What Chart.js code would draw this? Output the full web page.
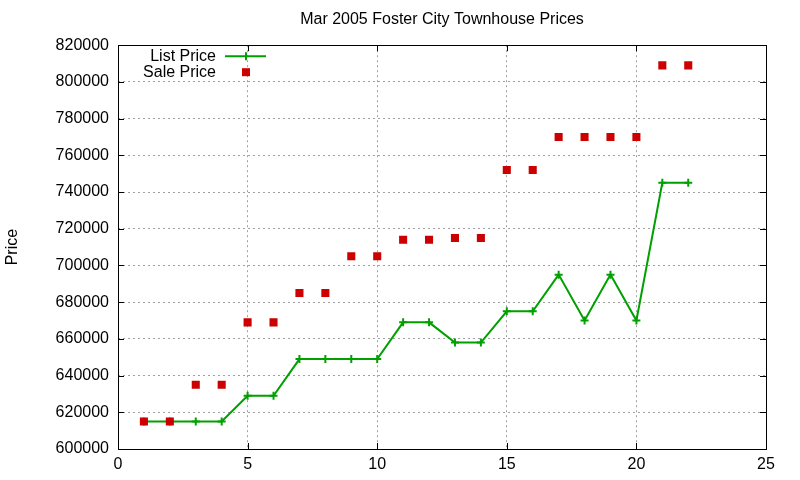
<!DOCTYPE html>
<html>
<head>
<meta charset="utf-8">
<script src="https://cdn.jsdelivr.net/npm/chart.js@4.4.1/dist/chart.umd.min.js"></script>
<style>
    html, body { margin: 0; padding: 0; background: #ffffff; }
    #wrap { width: 800px; height: 480px; }
</style>
</head>
<body>
<div id="wrap"><canvas id="priceChart" width="800" height="480"></canvas></div>
<script>
// listing number on the x axis
let listingNo = [1, 2, 3, 4, 5, 6, 7, 8, 9, 10, 11, 12, 13, 14, 15, 16, 17, 18, 19, 20, 21, 22];

let listPrice = [615000, 615000, 615000, 615000, 629000, 629000, 649000, 649000, 649000, 649000,
    669000, 669000, 658000, 658000, 675000, 675000, 695000, 670000, 695000, 670000, 745000, 745000];

let salePrice = [615000, 615000, 635000, 635000, 669000, 669000, 685000, 685000, 705000, 705000,
    714000, 714000, 715000, 715000, 752000, 752000, 770000, 770000, 770000, 770000, 809000, 809000];

let xTicks = [0, 5, 10, 15, 20, 25];
let yTicks = [600000, 620000, 640000, 660000, 680000, 700000, 720000, 740000, 760000, 780000, 800000, 820000];

const FONT = "'Liberation Sans', Arial, sans-serif";
const GREEN = "#00a000";
const RED = "#cc0000";

function toPoints(xs, ys) {
    let pts = [];
    for (let i = 0; i < xs.length; i++) {
        pts.push({ x: xs[i], y: ys[i] });
    }
    return pts;
}

// gnuplot style frame: black box with small inward ticks on every side
const framePlugin = {
    id: "frame",
    afterDatasetsDraw(chart) {
        const ctx = chart.ctx;
        const a = chart.chartArea;
        const xs = chart.scales.x;
        const ys = chart.scales.y;
        const t = 6;
        ctx.save();
        ctx.strokeStyle = "#000000";
        ctx.lineWidth = 1;
        ctx.beginPath();
        xTicks.forEach(function (v) {
            let px = Math.round(xs.getPixelForValue(v)) + 0.5;
            ctx.moveTo(px, a.bottom);
            ctx.lineTo(px, a.bottom - t);
            ctx.moveTo(px, a.top);
            ctx.lineTo(px, a.top + t);
        });
        yTicks.forEach(function (v) {
            let py = Math.round(ys.getPixelForValue(v)) + 0.5;
            ctx.moveTo(a.left, py);
            ctx.lineTo(a.left + t, py);
            ctx.moveTo(a.right, py);
            ctx.lineTo(a.right - t, py);
        });
        ctx.stroke();
        ctx.strokeRect(Math.round(a.left) + 0.5, Math.round(a.top) + 0.5,
            Math.round(a.right - a.left), Math.round(a.bottom - a.top));
        ctx.restore();
    },
};

// key in the top left corner, text right aligned with the sample to its right
const keyPlugin = {
    id: "gnuKey",
    afterDraw(chart) {
        const ctx = chart.ctx;
        const a = chart.chartArea;
        const textRight = a.left + 98;
        const sampleL = a.left + 107;
        const sampleR = a.left + 148;
        const mid = a.left + 128;
        const row1 = a.top + 11;
        const row2 = a.top + 27;
        ctx.save();
        ctx.font = "16px " + FONT;
        ctx.fillStyle = "#000000";
        ctx.textAlign = "right";
        ctx.textBaseline = "middle";
        ctx.fillText(chart.data.datasets[0].label, textRight, row1);
        ctx.fillText(chart.data.datasets[1].label, textRight, row2);

        ctx.strokeStyle = GREEN;
        ctx.lineWidth = 2;
        ctx.beginPath();
        ctx.moveTo(sampleL, row1);
        ctx.lineTo(sampleR, row1);
        ctx.moveTo(mid, row1 - 4);
        ctx.lineTo(mid, row1 + 4);
        ctx.stroke();

        ctx.fillStyle = RED;
        ctx.fillRect(mid - 4, row2 - 4, 8, 8);
        ctx.restore();
    },
};

let canvas = document.getElementById("priceChart");

let myChart = new Chart(canvas, {
    type: "line",
    data: {
        datasets: [
            {
                label: "List Price",
                data: toPoints(listingNo, listPrice),
                order: 1,
                borderColor: GREEN,
                backgroundColor: GREEN,
                borderWidth: 2,
                pointStyle: "cross",
                pointRadius: 4,
                pointBorderWidth: 2,
                pointBorderColor: GREEN,
                tension: 0,
                fill: false,
            },
            {
                // drawn on top of the list line, as in the original
                label: "Sale Price",
                data: toPoints(listingNo, salePrice),
                order: 0,
                showLine: false,
                pointStyle: "rect",
                pointRadius: 5.7,
                pointBorderWidth: 0,
                pointBackgroundColor: RED,
                pointBorderColor: RED,
                backgroundColor: RED,
                borderColor: RED,
            },
        ],
    },
    options: {
        responsive: false,
        animation: false,
        devicePixelRatio: 1,
        layout: {
            padding: { top: 0, right: 34, bottom: 0, left: 0 },
        },
        plugins: {
            legend: { display: false },
            tooltip: { enabled: false },
            title: {
                display: true,
                text: "Mar 2005 Foster City Townhouse Prices",
                color: "#000000",
                fullSize: false,
                font: { family: FONT, size: 16, weight: "normal", lineHeight: 1.2 },
                padding: { top: 10, bottom: 16 },
            },
        },
        scales: {
            x: {
                type: "linear",
                min: 0,
                max: 25,
                afterFit(scale) { scale.height = 31; },
                afterBuildTicks(scale) {
                    scale.ticks = xTicks.map(function (v) { return { value: v }; });
                },
                grid: {
                    color: "#a0a0a0",
                    lineWidth: 1,
                    drawTicks: false,
                },
                border: { display: false, dash: [2, 3] },
                ticks: {
                    color: "#000000",
                    padding: 6,
                    maxRotation: 0,
                    font: { family: FONT, size: 16 },
                },
            },
            y: {
                type: "linear",
                min: 600000,
                max: 820000,
                afterFit(scale) { scale.width = 118; },
                afterBuildTicks(scale) {
                    scale.ticks = yTicks.map(function (v) { return { value: v }; });
                },
                grid: {
                    color: "#a0a0a0",
                    lineWidth: 1,
                    drawTicks: false,
                },
                border: { display: false, dash: [2, 3] },
                title: {
                    display: true,
                    text: "Price",
                    color: "#000000",
                    font: { family: FONT, size: 16, lineHeight: 1.2 },
                    padding: { top: 3, bottom: 0 },
                },
                ticks: {
                    color: "#000000",
                    padding: 9,
                    font: { family: FONT, size: 16 },
                    callback: function (v) { return String(v); },
                },
            },
        },
    },
    plugins: [framePlugin, keyPlugin],
});
</script>
</body>
</html>
